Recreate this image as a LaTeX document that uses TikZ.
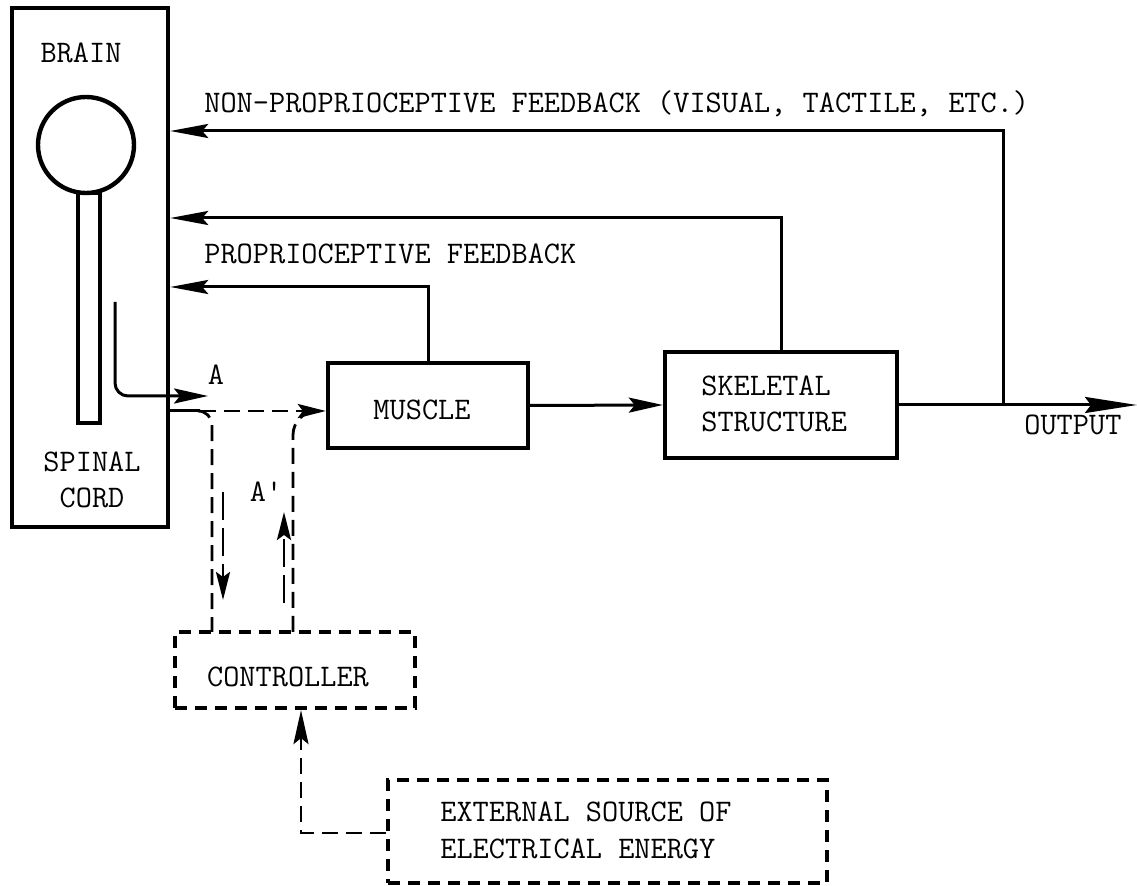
\documentclass[tikz,border=0pt]{standalone}
\usetikzlibrary{arrows.meta}
\begin{document}
\begin{tikzpicture}[x=0.5pt,y=-0.5pt,
  txt/.style={font=\ttfamily\fontsize{15.7pt}{18pt}\selectfont, inner sep=0pt},
  solidbox/.style={draw, line width=2.2pt, inner sep=0pt},
  dashbox/.style={draw, line width=2.1pt, inner sep=0pt, dash pattern=on 6pt off 4pt},
  conn/.style={line width=1.5pt},
  dconn/.style={line width=1.4pt, dash pattern=on 8pt off 4pt},
  longdash/.style={line width=1.4pt, dash pattern=on 14pt off 4pt},
  tipA/.style={-{Stealth[length=19pt,width=7pt,inset=3pt]}},
  tipB/.style={-{Stealth[length=17pt,width=7.5pt,inset=3pt]}},
  tipC/.style={-{Stealth[length=14pt,width=7pt,inset=2.5pt]}},
  tipOut/.style={-{Stealth[length=26pt,width=8pt,inset=3pt]}}
]
\useasboundingbox (0,0) rectangle (1137,886);

% brain and spinal cord
\node[solidbox, minimum width=78pt, minimum height=259.5pt] (brain) at (90,267.5) {};
\node[draw, line width=2.2pt, circle, minimum size=48pt, inner sep=0pt] (head) at (86,145) {};
\node[draw, line width=2pt, minimum width=11pt, minimum height=115pt, inner sep=0pt] (stem) at (89,308) {};
\node[txt] (brainlbl) at (81,53) {BRAIN};
\node[txt, align=center] (cordlbl) at (92,480) {SPINAL\\[0pt]CORD};

% blocks
\node[solidbox, minimum width=100pt, minimum height=42.5pt] (muscle) at (428,405.5) {};
\node[txt] (musclelbl) at (422,410) {MUSCLE};
\node[solidbox, minimum width=116pt, minimum height=53pt] (skel) at (781,405) {};
\node[txt, align=left, anchor=west] (skellbl) at (701,404) {SKELETAL\\[0pt]STRUCTURE};
\node[dashbox, minimum width=120pt, minimum height=38pt] (ctrl) at (295,670) {};
\node[txt] (ctrllbl) at (288,677) {CONTROLLER};
\node[dashbox, minimum width=219.5pt, minimum height=51.5pt] (ext) at (607.5,831.5) {};
\node[txt, align=left, anchor=west] (extlbl) at (440,830) {EXTERNAL SOURCE OF\\[0.5pt]ELECTRICAL ENERGY};

% labels
\node[txt, anchor=west] (nplbl) at (204,104) {NON-PROPRIOCEPTIVE FEEDBACK (VISUAL, TACTILE, ETC.)};
\node[txt, anchor=west] (plbl) at (204,254) {PROPRIOCEPTIVE FEEDBACK};
\node[txt, anchor=west] (outlbl) at (1024,425) {OUTPUT};
\node[txt] (albl) at (216,375) {A};
\node[txt] (aplbl) at (266,492) {A\textquotesingle};

% feedback paths and output
\coordinate (tap) at (1003,405);
\coordinate (out) at (1137,405);
\coordinate (in1) at (brain.east |- 0,131);
\coordinate (in2) at (brain.east |- 0,218);
\coordinate (in3) at (brain.east |- 0,287);
\draw[conn, tipB] (muscle.east) -- (skel.west);
\draw[conn, tipOut] (skel.east) -- (out);
\draw[conn, tipA] (tap) |- (in1);
\draw[conn, tipA] (skel.north) |- (in2);
\draw[conn, tipA] (muscle.north) |- (in3);

% motor command A
\coordinate (a0) at (115,302);
\coordinate (a1) at (208,396);
\draw[conn, tipB, rounded corners=6.5pt] (a0) |- (a1);

% efferent line and controller bypass
\coordinate (s0) at (brain.east |- 0,411);
\coordinate (j) at (200,411);
\coordinate (cl) at (212,632);
\coordinate (cr) at (293,632);
\draw[conn] (s0) -- (j);
\draw[dconn, tipC] (j) -- (muscle.west |- j);
\draw[dconn, rounded corners=7pt] (j) -| (cl);
\draw[dconn, rounded corners=12pt] (cr) |- ([xshift=-6pt]muscle.west |- j);

% direction arrows beside the bypass
\coordinate (d0) at (223,492);
\coordinate (d1) at (223,600);
\coordinate (u0) at (284,603);
\coordinate (u1) at (284,512);
\draw[longdash, tipC] (d0) -- (d1);
\draw[longdash, tipC] (u0) -- (u1);

% energy supply
\coordinate (e0) at (ext.west |- 0,833);
\draw[dconn, tipB] (e0) -| ([xshift=3pt]ctrl.south);
\end{tikzpicture}
\end{document}
